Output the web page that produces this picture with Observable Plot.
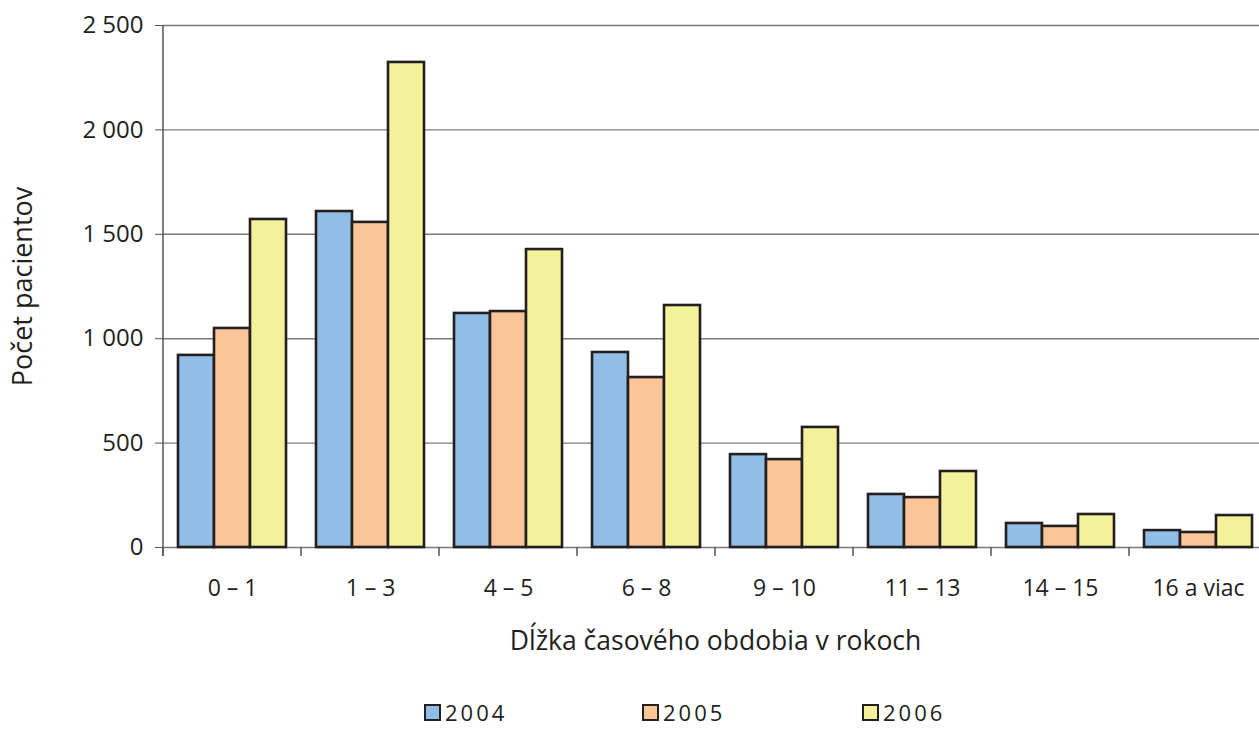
<!DOCTYPE html>
<html><head><meta charset="utf-8">
<script src="https://cdn.jsdelivr.net/npm/d3@7"></script>
<script src="https://cdn.jsdelivr.net/npm/@observablehq/plot@0.6"></script>
<style>
html,body{margin:0;padding:0;background:#fff;overflow:hidden;width:1259px;height:729px;position:relative}
#chart svg{display:block}
.legend{position:absolute;top:700px;left:0;width:1259px;font-family:"Open Sans",sans-serif;font-size:22px;line-height:24px;color:#231f20;letter-spacing:3px}
.item{position:absolute;top:0;display:flex;align-items:center;line-height:24px}
.sw{width:17px;height:17px;border:2px solid #231f20;box-sizing:border-box;margin-right:4px}
</style></head><body>
<div id="chart"></div>
<div class="legend" id="legend"></div>
<script>
const categories = ["0 – 1","1 – 3","4 – 5","6 – 8","9 – 10","11 – 13","14 – 15","16 a viac"];
const years = ["2004","2005","2006"];
const values2004 = [920,1609,1121,934,445,254,115,81];
const values2005 = [1049,1557,1130,814,421,239,101,72];
const values2006 = [1571,2323,1427,1159,575,364,158,153];
const yTicks = [0,500,1000,1500,2000,2500];
const colors = ["#90bee6","#fbc697","#f3f199"];
const xTitle = "Dĺžka časového obdobia v rokoch";
const yTitle = "Počet pacientov";

const series = [values2004, values2005, values2006];
const data = categories.flatMap((c,i) => years.map((yr,j) => ({cat:c, year:yr, value:series[j][i]})));
const fmt = d => d >= 1000 ? d3.format(",")(d).replace(",", " ") : String(d);

const chart = Plot.plot({
  width:1259, height:672,
  marginLeft:160, marginRight:0, marginTop:25, marginBottom:125,
  style:{fontFamily:"'Open Sans', sans-serif", fontSize:"21px", color:"#231f20", background:"white"},
  fx:{domain:categories, padding:0, label:xTitle, range:[160, 1269.6]},
  x:{domain:years, paddingInner:0, paddingOuter:0.39, axis:null},
  y:{domain:[0,2500], label:yTitle},
  color:{domain:years, range:colors},
  marks:[
    Plot.gridY(yTicks, {stroke:"#7a7a7a", strokeOpacity:1, strokeWidth:1.4}),
    Plot.barY(data, {fx:"cat", x:"year", y:"value", fill:"year", stroke:"#231f20", strokeWidth:2.6}),
    Plot.axisY(yTicks, {tickFormat:fmt, tickSize:8, tickPadding:12, stroke:"#555", fontSize:24, letterSpacing:"2.5px", label:null}),
    Plot.axisY([], {label:yTitle, labelAnchor:"center", labelOffset:151, labelArrow:"none", fontSize:27}),
    Plot.axisFx({anchor:"bottom", tickSize:0, tickPadding:32, fontSize:23, letterSpacing:"0.5px", label:null}),
    Plot.axisFx([], {anchor:"bottom", label:xTitle, labelAnchor:"center", labelOffset:102, labelArrow:"none", fontSize:26.5})
  ]
});
document.getElementById("chart").appendChild(chart);

// axis line and category boundary ticks from the scales
const fx = chart.scale("fx"), y = chart.scale("y");
const svg = d3.select(chart);
const g = svg.append("g").attr("stroke","#555").attr("stroke-width",1.5);
const y0 = y.apply(0), yTop = y.apply(2500);
const x0 = fx.apply(categories[0]);
g.append("line").attr("x1",x0).attr("x2",x0).attr("y1",yTop).attr("y2",y0+9);
categories.forEach(c => {
  const xb = fx.apply(c);
  g.append("line").attr("x1",xb).attr("x2",xb).attr("y1",y0).attr("y2",y0+9);
});

// legend
const legendLeft = [424, 642, 862];
const leg = document.getElementById("legend");
years.forEach((yr,i) => {
  const it = document.createElement("div");
  it.className = "item"; it.style.left = legendLeft[i] + "px";
  const sw = document.createElement("span"); sw.className = "sw"; sw.style.background = colors[i];
  const t = document.createElement("span"); t.textContent = yr;
  it.appendChild(sw); it.appendChild(t); leg.appendChild(it);
});
</script>
</body></html>
